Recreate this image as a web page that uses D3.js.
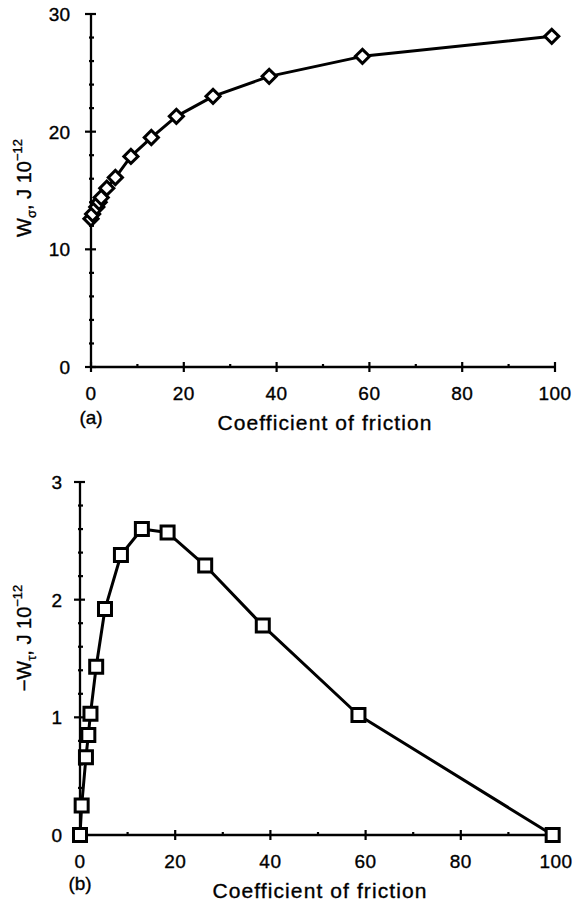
<!DOCTYPE html>
<html>
<head>
<meta charset="utf-8">
<script src="https://cdn.jsdelivr.net/npm/d3@7"></script>
<style>
  body { margin: 0; background: #fff; }
  text { font-family: "Liberation Sans", Arial, sans-serif; fill: #000; stroke: #000; stroke-width: 0.35px; }
</style>
</head>
<body>
<svg id="chart" width="574" height="907"></svg>
<script>
// coefficient of friction (same for both panels)
const friction = [0, 0.35, 1.25, 1.75, 2.2, 3.4, 5.25, 8.6, 13, 18.4, 26.3, 38.4, 58.5, 99.3];
// panel (a): W_sigma, J 10^-12
const wSigma = [12.6, 13.0, 13.6, 14.0, 14.4, 15.2, 16.1, 17.9, 19.5, 21.3, 23.0, 24.7, 26.4, 28.1];
// panel (b): -W_tau, J 10^-12
const wTau = [0, 0.25, 0.66, 0.85, 1.03, 1.43, 1.92, 2.38, 2.6, 2.57, 2.29, 1.78, 1.02, 0];

const xTicks = [0, 20, 40, 60, 80, 100];
const xMinor = [10, 30, 50, 70, 90];
const yTicksA = [0, 10, 20, 30];
const yMinorA = [2, 4, 6, 8, 12, 14, 16, 18, 22, 24, 26, 28];
const yTicksB = [0, 1, 2, 3];
const yMinorB = [0.2, 0.4, 0.6, 0.8, 1.2, 1.4, 1.6, 1.8, 2.2, 2.4, 2.6, 2.8];

const svg = d3.select("#chart");

function drawPanel(opt) {
  const x = d3.scaleLinear().domain([0, 100]).range(opt.xRange);
  const y = d3.scaleLinear().domain(opt.yDomain).range(opt.yRange);
  const g = svg.append("g");
  const x0 = x(0), y0 = y(opt.yDomain[0]);

  // axes lines
  g.append("line").attr("x1", x0).attr("x2", x(100)).attr("y1", y0).attr("y2", y0)
    .attr("stroke", "#000").attr("stroke-width", 2.3);
  g.append("line").attr("x1", x0).attr("x2", x0).attr("y1", y0).attr("y2", y(opt.yDomain[1]))
    .attr("stroke", "#000").attr("stroke-width", 2.3);

  // x ticks
  g.selectAll(".xt").data(xTicks).enter().append("line")
    .attr("x1", d => x(d)).attr("x2", d => x(d))
    .attr("y1", y0 - 5).attr("y2", y0 + 5)
    .attr("stroke", "#000").attr("stroke-width", 2.2);
  g.selectAll(".xm").data(xMinor).enter().append("line")
    .attr("x1", d => x(d)).attr("x2", d => x(d))
    .attr("y1", y0 - 3).attr("y2", y0 + 1)
    .attr("stroke", "#000").attr("stroke-width", 2.2);
  g.selectAll(".xl").data(xTicks).enter().append("text")
    .attr("x", d => x(d)).attr("y", y0 + 33)
    .attr("text-anchor", "middle").style("font-size", "19px")
    .style("letter-spacing", "0.5px")
    .text(d => d);

  // y ticks
  g.selectAll(".yt").data(opt.yTicks).enter().append("line")
    .attr("x1", x0 - 6).attr("x2", x0 + 5)
    .attr("y1", d => y(d)).attr("y2", d => y(d))
    .attr("stroke", "#000").attr("stroke-width", 2.2);
  g.selectAll(".ym").data(opt.yMinor).enter().append("line")
    .attr("x1", x0 - 2).attr("x2", x0 + 3)
    .attr("y1", d => y(d)).attr("y2", d => y(d))
    .attr("stroke", "#000").attr("stroke-width", 2.2);
  g.selectAll(".yl").data(opt.yTicks).enter().append("text")
    .attr("x", x0 - opt.yLabelGap).attr("y", d => y(d) + 7)
    .attr("text-anchor", "end").style("font-size", "19px")
    .text(d => d);

  // line
  const line = d3.line().x(d => x(d[0])).y(d => y(d[1]));
  const pts = friction.map((f, i) => [f, opt.values[i]]);
  g.append("path").datum(pts).attr("d", line)
    .attr("fill", "none").attr("stroke", "#000").attr("stroke-width", 3)
    .attr("stroke-linejoin", "round");

  // markers
  const sym = d3.symbol().type(d3.symbolSquare).size(opt.markerSize);
  g.selectAll(".pt").data(pts).enter().append("path")
    .attr("d", sym)
    .attr("transform", d => `translate(${x(d[0])},${y(d[1])}) rotate(${opt.markerRotate})`)
    .attr("fill", "#fff").attr("stroke", "#000").attr("stroke-width", 3);

  // x label
  g.append("text").attr("x", (x(0) + x(100)) / 2 + 2).attr("y", y0 + 63)
    .attr("text-anchor", "middle").style("font-size", "21px")
    .style("letter-spacing", "1.1px")
    .text("Coefficient of friction");
  // panel letter
  g.append("text").attr("x", x0).attr("y", y0 + opt.tagGap)
    .attr("text-anchor", "middle").style("font-size", "19px")
    .text(opt.tag);

  // y label
  const yl = g.append("text")
    .attr("transform", `translate(31,${opt.yLabelCenter}) rotate(-90)`)
    .attr("text-anchor", "middle").style("font-size", "20px");
  yl.append("tspan").text(opt.yPrefix + "W");
  yl.append("tspan").attr("dy", 5).style("font-size", "13px").text(opt.ySub);
  yl.append("tspan").attr("dy", -5).text(", J 10");
  yl.append("tspan").attr("dy", -9).style("font-size", "13px").text("\u221212");
}

drawPanel({
  xRange: [91, 555], yDomain: [0, 30], yRange: [367, 14],
  yTicks: yTicksA, yMinor: yMinorA, yLabelGap: 21,
  values: wSigma, markerSize: 100, markerRotate: 45,
  tag: "(a)", tagGap: 57, yPrefix: "", ySub: "\u03c3", yLabelCenter: 188
});
drawPanel({
  xRange: [80, 556], yDomain: [0, 3], yRange: [835, 482],
  yTicks: yTicksB, yMinor: yMinorB, yLabelGap: 18,
  values: wTau, markerSize: 169, markerRotate: 0,
  tag: "(b)", tagGap: 55, yPrefix: "\u2212", ySub: "\u03c4", yLabelCenter: 638
});
</script>
</body>
</html>
